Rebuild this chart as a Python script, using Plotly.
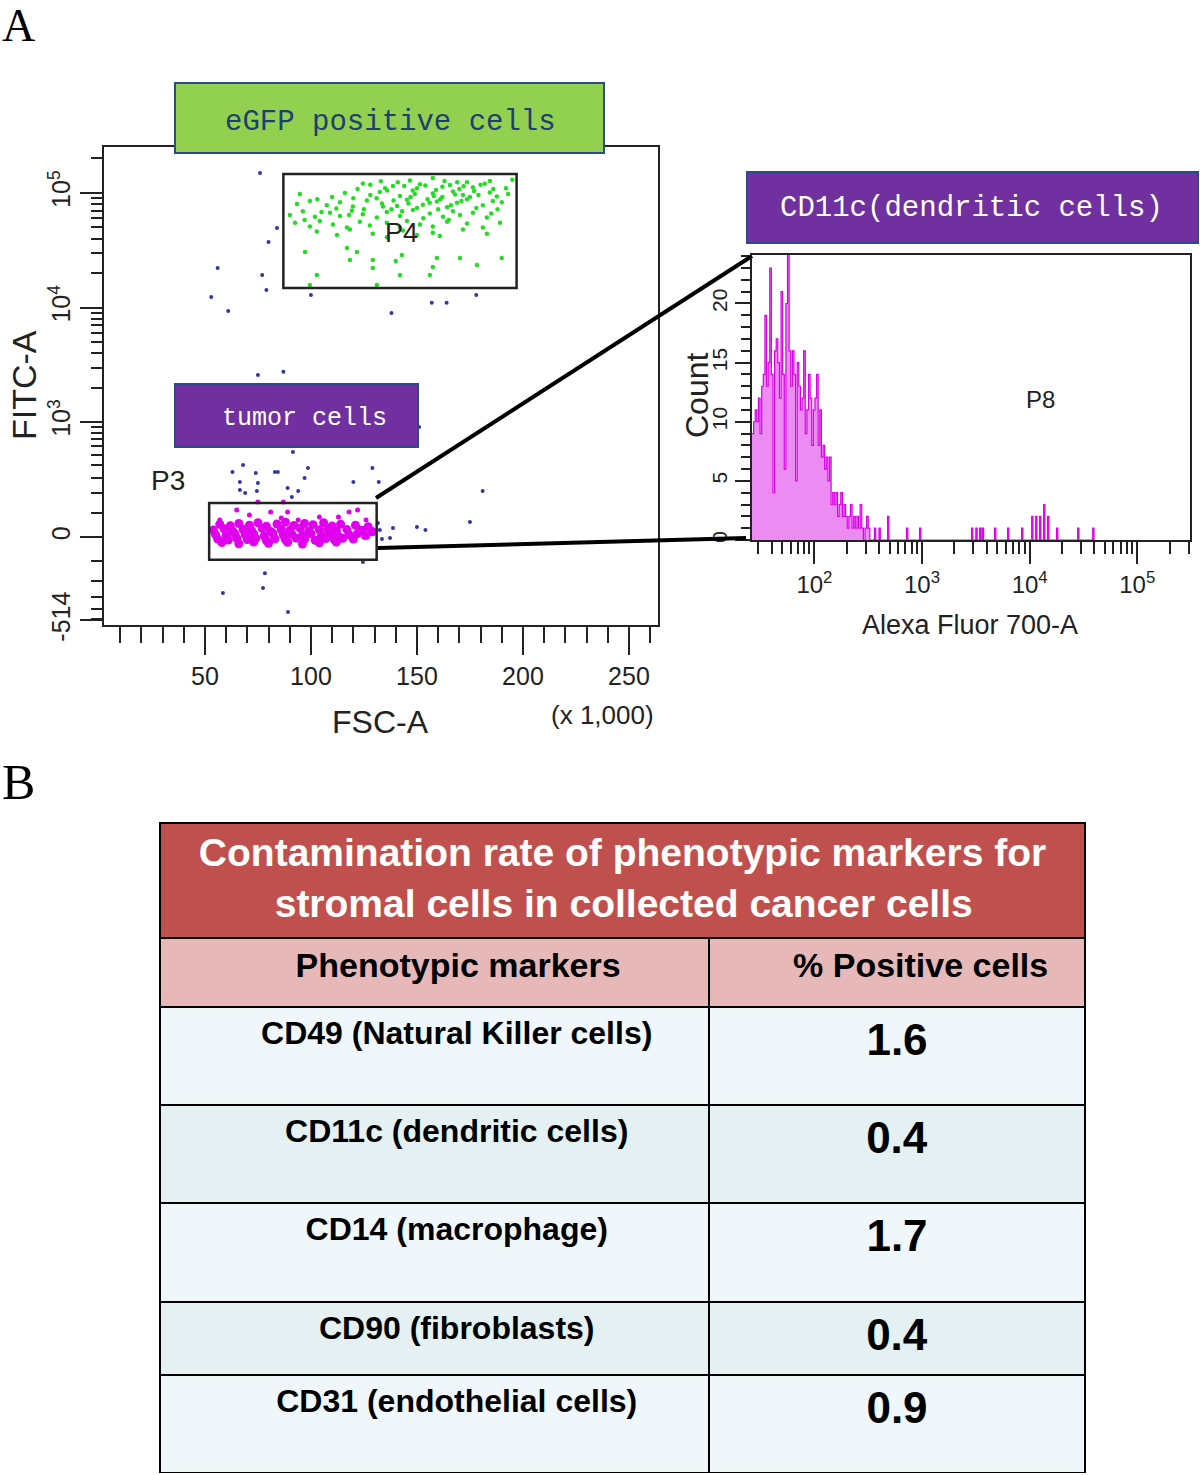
import numpy as np
import plotly.graph_objects as go

W, H = 1200, 1475

# ----------------------------- data -----------------------------
# Scatter: FSC-A (x 1,000) vs FITC-A (biexponential display)
fsc_blue = [76, 84, 80, 56, 77, 79, 100, 53, 178, 61, 138, 157, 164, 75, 87, 151, 91.5, 68, 63,
            74, 83, 84.4, 98.6, 97, 129, 120, 132, 66.5, 75, 89, 94, 66.5, 69, 74.5, 91, 181,
            175, 150, 154, 131.6, 132.5, 138.7, 137.3, 133.5, 124.5, 78.3, 77.4, 58.5, 89.2]
fitc_blue = [149000, 49400, 37300, 22100, 19200, 14200, 12900, 12400, 12900, 9330, 8970, 11000,
             11000, 2580, 2750, 900, 533, 401, 342, 334, 342, 342, 375, 296, 375, 269, 269, 269,
             262, 230, 212, 218, 201, 212, 179, 212, 61, 40, 28, 57, 28, 36, -4, -8, -105, -158,
             -243, -275, -428]

fsc_green = [124.5, 133, 138.7, 146.7, 151.4, 157.5, 165.6, 173.6, 176.4, 184.4, 195,
             94.8, 132.5, 142, 148, 157.5, 162, 167, 171.7, 184.4, 187.7,
             93.4, 99.5, 107.5, 113.7, 119.8, 126.4, 133.5, 140.6, 145.3, 152.8, 159.4, 164.2,
             168.9, 173.6, 181.1, 185.8,
             90.1, 96.2, 101.9, 109, 113.7, 119.3, 124.5, 131.1, 135.8, 142, 148.1, 156.1, 162.3,
             167, 170.3, 176.4, 183,
             92.5, 99.5, 104.2, 110.4, 117, 123.1, 127.8, 135.8, 142, 145.3, 151.4, 157.5, 164.2,
             173.6, 181.1, 189.2,
             102.8, 112.3, 118.4, 129.2, 135.8, 143.4, 150, 157.5, 160.8, 171.7, 183,
             97.2, 117, 121.7, 129.2, 142.9, 140, 159.4, 170.3, 190, 178.3, 157.5, 118.4, 102.8,
             129.2, 142, 156.1, 99.5, 131.1,
             150, 155, 160, 165, 170, 175, 178, 153, 158, 146, 138, 128, 120, 112, 105, 97, 188,
             192, 180, 169, 162, 144, 135,
             128, 136, 141, 149, 154, 159, 163, 168, 172, 177, 182, 186, 131, 139, 147, 156, 161,
             166, 171, 179, 116, 122, 110, 103, 150, 143, 134, 125, 118, 185, 190, 193]
fitc_green = [121000, 126000, 115000, 128000, 119000, 135000, 117000, 124000, 112000, 127000, 130000,
              98000, 102000, 94000, 105000, 99000, 92000, 103000, 96000, 101000, 93000,
              80000, 85000, 78000, 83000, 76000, 86000, 81000, 77000, 87000, 79000, 84000, 75000,
              82000, 88000, 78000, 85000,
              64000, 69000, 62000, 67000, 63000, 70000, 65000, 61000, 68000, 63000, 71000, 66000,
              62000, 69000, 64000, 67000, 61000,
              55000, 51000, 57000, 53000, 50000, 56000, 52000, 55000, 50000, 57000, 53000, 51000,
              56000, 54000, 50000, 55000,
              46000, 43000, 48000, 44000, 41000, 47000, 43000, 45000, 42000, 48000, 44000,
              30600, 33100, 30600, 26000, 28800, 25500, 27100, 27100, 27100, 23500, 22600, 26000,
              19200, 22100, 19200, 19200, 15700, 15700,
              110000, 88000, 72000, 58000, 108000, 92000, 74000, 60000, 94000, 81000, 72000, 96000,
              90000, 73000, 68000, 58000, 72000, 110000, 118000, 124000, 113000, 115000, 110000,
              118000, 105000, 124000, 98000, 116000, 106000, 127000, 97000, 114000, 104000, 120000,
              108000, 90000, 86000, 92000, 82000, 88000, 78000, 85000, 96000, 100000, 108000,
              92000, 88000, 74000, 69000, 76000, 72000, 64000, 66000, 83000, 98000]

# dense tumour-cell band inside P3
fsc_magenta = [57, 62, 66, 71, 75, 79, 84, 88, 92, 97, 101, 106, 110, 114, 121, 127,
               54, 59, 63, 68, 72, 77, 81, 86, 90, 95, 99, 104, 108, 112, 117, 124, 129,
               55, 60, 64, 69, 73, 78, 82, 87, 91, 96, 100, 105, 109, 113, 118, 122, 126,
               56, 61, 65, 70, 74, 79, 83, 88, 93, 97, 102, 107, 111, 115, 120,
               58, 66, 73, 80, 89, 96, 104, 112]
fitc_magenta = [52, 46, 55, 48, 58, 44, 53, 60, 47, 55, 50, 58, 45, 52, 48, 42,
                28, 33, 24, 31, 27, 35, 22, 30, 26, 34, 23, 29, 32, 25, 30, 27, 21,
                10, 6, 14, 9, 12, 4, 15, 8, 11, 5, 13, 7, 12, 3, 9, 14, 6,
                -8, -12, -5, -10, -6, -14, -7, -11, -4, -9, -13, -6, -10, -5, -8,
                -22, -27, -20, -25, -21, -28, -23, -20]
# scattered P3 events around the band
fsc_magenta_sparse = [65, 71, 81, 89, 86, 104, 113, 118, 122, 94, 75, 87, 122, 125, 119, 57, 66,
                      61, 90, 106, 113, 126, 129]
fitc_magenta_sparse = [114, 91, 105, 105, 78, 82, 82, 105, 114, 70, 152, 152, 40, 0, 0, 70, -12,
                       -12, -20, -12, 0, 70, 30]

# Gates (data units)
gate_p4_fsc = [87, 197]
gate_p4_fitc = [14800, 146000]
gate_p3_fsc = [52, 131]
gate_p3_fitc = [-95, 147]

# Histogram: counts per bin (log10 bins of width 0.015 starting at 10^1.42)
hist_counts = [9, 10, 11, 10, 12, 9, 13, 14, 19, 13, 15, 23, 14, 4, 16, 17, 15, 12, 21, 14,
               6, 20, 25, 16, 13, 16, 14, 5, 15, 13, 11, 12, 16, 9, 11, 14, 12, 8, 11, 12,
               14, 8, 11, 7, 8, 6, 7, 5, 7, 3, 4, 3, 4, 2, 3, 4, 2, 3, 2, 1,
               2, 3, 1, 2, 1, 2, 1, 3, 1, 0, 1, 2, 1, 0]
sparse_log10 = [2.558, 2.60, 2.68, 2.856, 2.977, 3.46, 3.50, 3.535, 3.56, 3.674, 3.795, 3.925,
                4.019, 4.056, 4.093, 4.13, 4.167, 4.25, 4.446, 4.586]
sparse_counts = [1, 1, 2, 1, 1, 1, 1, 1, 1, 1, 1, 1, 2, 2, 2, 3, 2, 1, 1, 1]
gate_p8_low = 340
gate_p8_count = 7.06

# Table
table_title_lines = ["Contamination rate of phenotypic markers for", "stromal cells in collected cancer cells"]
column_headers = ["Phenotypic markers", "% Positive cells"]
markers = ["CD49 (Natural Killer cells)", "CD11c (dendritic cells)", "CD14 (macrophage)",
           "CD90 (fibroblasts)", "CD31 (endothelial cells)"]
positive_pct = [1.6, 0.4, 1.7, 0.4, 0.9]

# ----------------------------- helpers -----------------------------
def fitc_display(v):
    v = np.asarray(v, dtype=float)
    return np.log10(v / 2 + np.sqrt(v ** 2 / 4 + 100.0 ** 2))

def px(x):
    return x / W

def py(y):
    return 1 - y / H

SANS = "Liberation Sans, Arial, sans-serif"
MONO = "Liberation Mono, DejaVu Sans Mono, monospace"
NB = "\u00a0"

fig = go.Figure()

# ----------------------------- scatter -----------------------------
fig.add_trace(go.Scatter(x=fsc_blue, y=fitc_display(fitc_blue), mode="markers",
                         marker=dict(size=4, color="#3535A5"), xaxis="x", yaxis="y"))
fig.add_trace(go.Scatter(x=fsc_green, y=fitc_display(fitc_green), mode="markers",
                         marker=dict(size=4.5, color="#22DD22"), xaxis="x", yaxis="y"))
fig.add_trace(go.Scatter(x=fsc_magenta, y=fitc_display(fitc_magenta), mode="markers",
                         marker=dict(size=9, color="#E000EE"), xaxis="x", yaxis="y"))
fig.add_trace(go.Scatter(x=fsc_magenta_sparse, y=fitc_display(fitc_magenta_sparse), mode="markers",
                         marker=dict(size=5, color="#E000EE"), xaxis="x", yaxis="y"))

# ----------------------------- histogram -----------------------------
edges = 1.42 + 0.015 * np.arange(len(hist_counts) + 1)
hx = list(10 ** edges[:-1]) + [10 ** edges[-1]]
hy = list(hist_counts) + [0]
for s, c in zip(sparse_log10, sparse_counts):
    hx += [10 ** s, 10 ** (s + 0.012)]
    hy += [c, 0]
fig.add_trace(go.Scatter(x=hx, y=hy, mode="lines", line=dict(shape="hv", color="#D800E6", width=1.2),
                         fill="tozeroy", fillcolor="#EC8CF2", xaxis="x2", yaxis="y2"))

# ----------------------------- tables -----------------------------
tab_x = [px(160), px(1085)]
colw = [549, 376]
LINE = dict(color="black", width=2.5)
title_text = ("<b>" + table_title_lines[0] + "</b><br><b>" + NB * 7 + table_title_lines[1] + "</b>")

fig.add_trace(go.Table(
    domain=dict(x=tab_x, y=[py(938), py(823)]),
    header=dict(values=[title_text], fill_color="#C0504D", height=115, line=LINE,
                align="center", font=dict(family=SANS, size=39, color="white")),
    cells=dict(values=[[]])))
fig.add_trace(go.Table(
    domain=dict(x=tab_x, y=[py(1007), py(938)]), columnwidth=colw,
    header=dict(values=["<b>" + NB * 5 + h + "</b>" for h in column_headers], fill_color="#E6B8B7",
                height=69, line=LINE, align="center", font=dict(family=SANS, size=34, color="black")),
    cells=dict(values=[[], []])))
row_bounds = [1007, 1105, 1203, 1302, 1375, 1473]
row_fills = ["#F0F7FA", "#E4F0F2", "#F0F7FA", "#E4F0F2", "#F0F7FA"]
for i, (m, p) in enumerate(zip(markers, positive_pct)):
    top, bot = row_bounds[i], row_bounds[i + 1]
    fig.add_trace(go.Table(
        domain=dict(x=tab_x, y=[py(bot), py(top)]), columnwidth=colw,
        header=dict(values=["<b>" + NB * 5 + m + "</b>", "<b>%.1f</b>" % p], fill_color=row_fills[i],
                    height=bot - top, line=LINE, align="center",
                    font=dict(family=SANS, size=[32, 44], color="black")),
        cells=dict(values=[[], []])))

# ----------------------------- axes -----------------------------
tickfont = dict(family=SANS, size=25, color="#222")
fitc_minor = [-500, -400, -300, -200, -100, 100, 200, 300, 400, 500, 600, 700, 800, 900,
              2000, 3000, 4000, 5000, 6000, 7000, 8000, 9000,
              20000, 30000, 40000, 50000, 60000, 70000, 80000, 90000, 200000]
hist_minor = [k * 10 ** e for e in range(1, 6) for k in range(2, 10)]

fig.update_layout(
    width=W, height=H, margin=dict(l=0, r=0, t=0, b=0), paper_bgcolor="white",
    plot_bgcolor="white", showlegend=False,
    xaxis=dict(domain=[px(104), px(658)], range=[2.4, 263.7], anchor="y", automargin=False,
               tickmode="array", tickvals=[50, 100, 150, 200, 250], ticks="outside", ticklen=28,
               tickwidth=2, tickcolor="#222", showline=True, linewidth=2, linecolor="#222",
               mirror=True, showgrid=False, zeroline=False, tickfont=tickfont,
               minor=dict(tickmode="linear", tick0=0, dtick=10, ticks="outside", ticklen=16,
                          tickwidth=2, tickcolor="#222", showgrid=False)),
    yaxis=dict(domain=[py(625), py(147)], range=[1.233, 5.40], anchor="x", automargin=False,
               tickmode="array", tickvals=list(fitc_display([-514, 0, 1000, 10000, 100000])),
               ticktext=["-514", "0", "10<sup>3</sup>", "10<sup>4</sup>", "10<sup>5</sup>"],
               tickangle=-90, ticks="outside", ticklen=22, tickwidth=2, tickcolor="#222",
               showline=True, linewidth=2, linecolor="#222", mirror=True, showgrid=False,
               zeroline=False, tickfont=tickfont,
               minor=dict(tickmode="array", tickvals=list(fitc_display(fitc_minor)), ticks="outside",
                          ticklen=11, tickwidth=2, tickcolor="#222", showgrid=False)),
    xaxis2=dict(domain=[px(752), px(1190)], type="log", range=[1.42, 5.49], anchor="y2", automargin=False,
                tickmode="array", tickvals=[100, 1000, 10000, 100000],
                ticktext=["10<sup>2</sup>", "10<sup>3</sup>", "10<sup>4</sup>", "10<sup>5</sup>"],
                ticks="outside", ticklen=22, tickwidth=2, tickcolor="#222", showline=True,
                linewidth=2, linecolor="#222", mirror=True, showgrid=False, zeroline=False,
                tickfont=dict(family=SANS, size=24, color="#222"),
                minor=dict(tickmode="array", tickvals=hist_minor, ticks="outside", ticklen=12,
                           tickwidth=2, tickcolor="#222", showgrid=False)),
    yaxis2=dict(domain=[py(540), py(255)], range=[0, 24.1], anchor="x2", automargin=False,
                tickmode="array", tickvals=[0, 5, 10, 15, 20], tickangle=-90,
                ticks="outside", ticklen=15, tickwidth=2, tickcolor="#222", showline=True,
                linewidth=2, linecolor="#222", mirror=True, showgrid=False, zeroline=False,
                tickfont=dict(family=SANS, size=21, color="#222"),
                minor=dict(tickmode="linear", tick0=0, dtick=1, ticks="outside", ticklen=9,
                           tickwidth=2, tickcolor="#222", showgrid=False)),
)

# ----------------------------- gates & connectors -----------------------------
shapes = []
gl = dict(color="#222", width=2.5)
shapes.append(dict(type="rect", xref="x", yref="y", x0=gate_p4_fsc[0], x1=gate_p4_fsc[1],
                   y0=float(fitc_display(gate_p4_fitc[0])), y1=float(fitc_display(gate_p4_fitc[1])),
                   line=gl, layer="above"))
shapes.append(dict(type="rect", xref="x", yref="y", x0=gate_p3_fsc[0], x1=gate_p3_fsc[1],
                   y0=float(fitc_display(gate_p3_fitc[0])), y1=float(fitc_display(gate_p3_fitc[1])),
                   line=gl, layer="above"))
shapes.append(dict(type="rect", xref="x2", yref="y2", x0=np.log10(gate_p8_low), x1=5.49,
                   y0=gate_p8_count, y1=24.1, line=gl, layer="above"))
shapes.append(dict(type="line", xref="x2", yref="y2", x0=np.log10(gate_p8_low), x1=np.log10(gate_p8_low),
                   y0=0, y1=gate_p8_count, line=gl, layer="above"))
# zoom connectors
shapes.append(dict(type="line", xref="paper", yref="paper", x0=px(376), y0=py(498), x1=px(752), y1=py(256),
                   line=dict(color="black", width=4)))
shapes.append(dict(type="line", xref="paper", yref="paper", x0=px(378), y0=py(548), x1=px(746), y1=py(538),
                   line=dict(color="black", width=4)))
# label boxes
box_line = dict(color="#2E4A8A", width=2)
shapes.append(dict(type="rect", xref="paper", yref="paper", x0=px(175), x1=px(604), y0=py(153), y1=py(83),
                   fillcolor="#92D050", line=box_line, layer="above"))
shapes.append(dict(type="rect", xref="paper", yref="paper", x0=px(175), x1=px(418), y0=py(447), y1=py(384),
                   fillcolor="#7030A0", line=box_line, layer="above"))
shapes.append(dict(type="rect", xref="paper", yref="paper", x0=px(747), x1=px(1198), y0=py(243), y1=py(172),
                   fillcolor="#7030A0", line=box_line, layer="above"))
fig.update_layout(shapes=shapes)

# ----------------------------- annotations -----------------------------
def ann(x, y, text, size, family=SANS, color="#222", angle=0):
    return dict(x=px(x), y=py(y), xref="paper", yref="paper", text=text, showarrow=False,
                xanchor="center", yanchor="middle", textangle=angle,
                font=dict(family=family, size=size, color=color))

annotations = [
    ann(18, 26, "A", 46, family="Liberation Serif, serif", color="black"),
    ann(18, 782, "B", 50, family="Liberation Serif, serif", color="black"),
    ann(390, 122, "eGFP positive cells", 29, family=MONO, color="#1F3F6F"),
    ann(304, 419, "tumor cells", 25, family=MONO, color="white"),
    ann(971, 209, "CD11c(dendritic cells)", 29, family=MONO, color="white"),
    ann(401, 233, "P4", 27),
    ann(168, 481, "P3", 28),
    ann(1040, 400, "P8", 24),
    ann(380, 722, "FSC-A", 32),
    ann(603, 715, "(x 1,000)", 26),
    ann(24, 385, "FITC-A", 34, angle=-90),
    ann(697, 395, "Count", 32, angle=-90),
    ann(970, 625, "Alexa Fluor 700-A", 27),
]
fig.update_layout(annotations=annotations)

fig.write_html("out.html", post_script="document.body.style.margin='0';",
               config={"displayModeBar": False})
